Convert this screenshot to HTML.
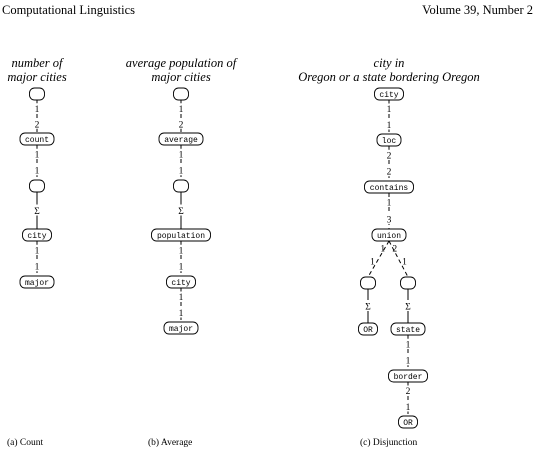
<!DOCTYPE html>
<html><head><meta charset="utf-8"><style>
body{margin:0;background:#fff}
svg{display:block}
.t{font-family:"Liberation Serif",serif;font-style:italic;font-size:12.5px;fill:#000}
.h{font-family:"Liberation Serif",serif;font-size:12.5px;fill:#000}
.n{font-family:"Liberation Mono",monospace;font-size:8px;fill:#000}
.l{font-family:"Liberation Serif",serif;font-size:9.5px;fill:#000}
.c{font-family:"Liberation Serif",serif;font-size:9.5px;fill:#000}
</style></head><body>
<svg id="s" width="536" height="454" viewBox="0 0 536 454">
<text class="h" x="2" y="14">Computational Linguistics</text>
<text class="h" x="533" y="14" text-anchor="end">Volume 39, Number 2</text>
<g text-anchor="middle">
<text class="t" x="37" y="67">number of</text>
<text class="t" x="37" y="81">major cities</text>
<text class="t" x="181" y="67">average population of</text>
<text class="t" x="181" y="81">major cities</text>
<text class="t" x="389" y="67">city in</text>
<text class="t" x="389" y="81">Oregon or a state bordering Oregon</text>
</g>
<text class="c" x="7" y="445">(a) Count</text>
<text class="c" x="148" y="445">(b) Average</text>
<text class="c" x="360" y="445">(c) Disjunction</text>
</svg>
<script>
const NS="http://www.w3.org/2000/svg";
const svg=document.getElementById('s');
const nodes={
a0:[37,94,''],a1:[37,139,'count'],a2:[37,186,''],a3:[37,235,'city'],a4:[37,282,'major'],
b0:[181,94,''],b1:[181,139,'average'],b2:[181,186,''],b3:[181,235,'population'],b4:[181,282,'city'],b5:[181,328,'major'],
c0:[389,94,'city'],c1:[389,140,'loc'],c2:[389,187,'contains'],c3:[389,235,'union'],
c4:[368,283,''],c5:[368,329,'OR'],c6:[408,283,''],c7:[408,329,'state'],c8:[408,376,'border'],c9:[408,422,'OR']};
const edges=[
['a0','a1','1','2'],['a1','a2','1','1'],['a2','a3','S'],['a3','a4','1','1'],
['b0','b1','1','2'],['b1','b2','1','1'],['b2','b3','S'],['b3','b4','1','1'],['b4','b5','1','1'],
['c0','c1','1','1'],['c1','c2','2','2'],['c2','c3','1','3'],['c3','c4','1','1'],['c3','c6','2','1'],
['c4','c5','S'],['c6','c7','S'],['c7','c8','1','1'],['c8','c9','2','1']];
function mk(t,a){const e=document.createElementNS(NS,t);for(const k in a)e.setAttribute(k,a[k]);svg.appendChild(e);return e;}
function w(k){const s=nodes[k][2];return s?s.length*5+9:15;}
edges.forEach(e=>{
 const [x1,y1]=nodes[e[0]],[x2,y2]=nodes[e[1]];
 const ya=y1+6,yb=y2-6;
 const ln=mk('line',{x1:x1,y1:ya,x2:x2,y2:yb,stroke:'#000','stroke-width':1});
 
 
 if(e[2]==='S'){
  const r=mk('rect',{x:x1-4,y:(ya+yb)/2-6,width:8,height:11,fill:'#fff'});
  
  
  const t=mk('text',{x:x1,y:(ya+yb)/2+3.5,class:'l','text-anchor':'middle'});t.textContent='Σ';
  
  
 } else {
  ln.setAttribute('stroke-dasharray','4,3');
  const diag=x2!==x1, sgn=x2>x1?1:-1;
  const fr=diag?[0.2,0.55]:[0.25,0.72];
  [e[2],e[3]].forEach((s,i)=>{
   const f=fr[i];let x=x1+(x2-x1)*f,y=ya+(yb-ya)*f;
   if(diag){x+=sgn*(i===0?2:5);}
   else{
    const r=mk('rect',{x:x-3,y:y-5,width:6,height:10,fill:'#fff'});
    
    
   }
   const t=mk('text',{x:x,y:y+3.5,class:'l','text-anchor':'middle'});t.textContent=s;
   
   
  });
 }
});
for(const k in nodes){
 const [x,y,s]=nodes[k],ww=w(k);
 const r=mk('rect',{x:x-ww/2,y:y-6,width:ww,height:12,rx:5,fill:'#fff',stroke:'#000','stroke-width':0.9});
 
 
 if(s){const t=mk('text',{x:x,y:y+3,class:'n','text-anchor':'middle'});t.textContent=s;
  
  }
}
</script>
</body></html>
